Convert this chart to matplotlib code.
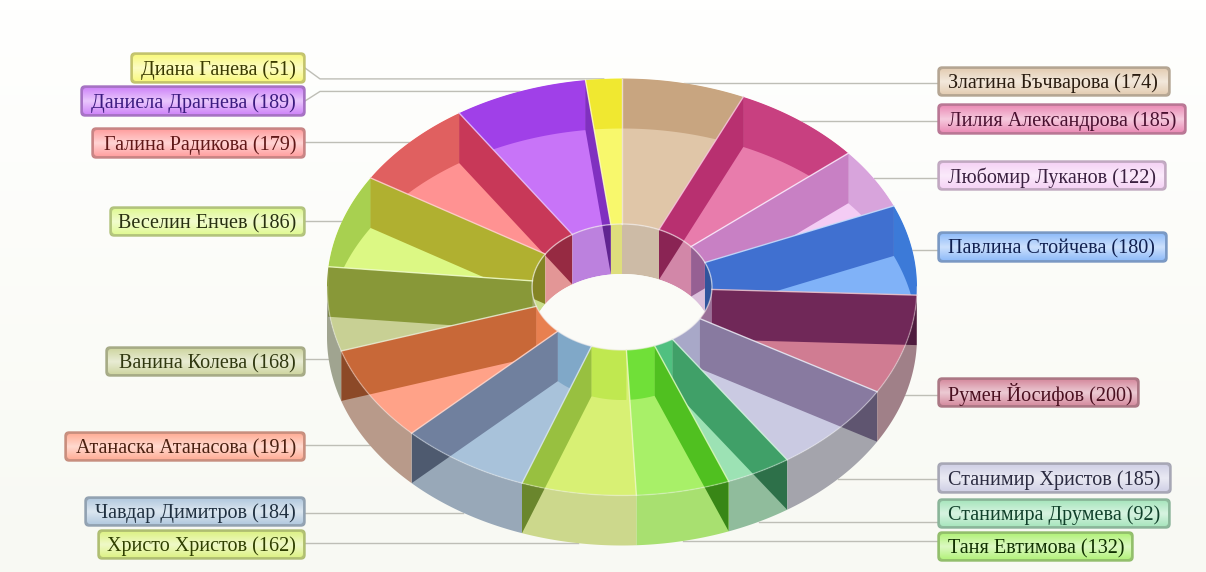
import numpy as np
import matplotlib
matplotlib.use("Agg")
import matplotlib.pyplot as plt
from matplotlib.colors import to_rgb
from matplotlib.patches import Polygon, FancyBboxPatch

# clockwise from the top
names = ["Златина Бъчварова", "Лилия Александрова", "Любомир Луканов", "Павлина Стойчева",
         "Румен Йосифов", "Станимир Христов", "Станимира Друмева", "Таня Евтимова",
         "Христо Христов", "Чавдар Димитров", "Атанаска Атанасова", "Ванина Колева",
         "Веселин Енчев", "Галина Радикова", "Даниела Драгнева", "Диана Ганева"]
values = [174, 185, 122, 180, 200, 185, 92, 132, 162, 184, 191, 168, 186, 179, 189, 51]

light = ["#E0C6A8", "#E87CAC", "#F4CCF4", "#80B2F8", "#D07C92", "#CACAE2", "#9CE2B4", "#A8F068",
         "#D8F074", "#A8C2DA", "#FFA288", "#C8D094", "#DCF884", "#FF9292", "#C874F8", "#F8F86C"]
# far radial wall seen through the top
dark = ["#C8A47E", "#B83070", "#C880C4", "#4070D0", "#702858", "#887AA0", "#40A068", "#50C020",
        "#98C040", "#70809E", "#C86838", "#889838", "#B0B030", "#C83858", "#8030C0", "#E0D020"]
# back part of the outer wall seen through the top
back = ["#C8A580", "#C84080", "#D8A4DC", "#3C7AD8", "#702858", "#887AA0", "#40A068", "#50C020",
        "#98C040", "#70809E", "#C86838", "#8A9A38", "#A8D050", "#E06060", "#A040E8", "#F0E830"]
# front part of the outer wall
wall = ["#C8B090", "#B07090", "#C0A0C0", "#7090C8", "#A08088", "#A4A4AC", "#90BC9C", "#A8E070",
        "#CCD88C", "#98A8B8", "#B89A8A", "#A0A490", "#B0C080", "#D09090", "#A080C0", "#E0E080"]
# front part of the inner wall seen through the top
inner = ["#D0C0A8", "#B88098", "#B090B0", "#6080B0", "#9A7098", "#A8A8C8", "#50C080", "#70E038",
         "#C0E850", "#80A8C8", "#E88050", "#A0A868", "#B0C080", "#D09090", "#B088D0", "#E8E870"]
text_col = ["#2A1C10", "#4A1030", "#3A2040", "#102050", "#4A1020", "#2A2A40", "#10402A", "#103000",
            "#304000", "#203040", "#4A2010", "#303810", "#283010", "#601818", "#3C1C80", "#3A3A00"]
# label box: left, right, top, bottom
boxes = [(938, 1170, 67, 96), (938, 1186, 104, 134), (938, 1166, 161, 190), (938, 1167, 232, 262),
         (938, 1139, 378, 407), (938, 1171, 463, 493), (938, 1170, 499, 528), (938, 1133, 532, 561),
         (98, 305, 530, 559), (85, 305, 497, 526), (65, 305, 432, 461), (106, 305, 347, 376),
         (110, 305, 207, 236), (92, 305, 128, 158), (81, 305, 86, 116), (131, 305, 53, 83)]

CX, CY = 622, 287
RX, RY = 295, 208.5
IX, IY = 90, 63
H = 50
BG = "#FBFBF7"


def mix(a, b, t):
    a, b = np.array(to_rgb(a)), np.array(to_rgb(b))
    return tuple(a * (1 - t) + b * t)


def arc(rx, ry, a0, a1, dy=0):
    t = np.radians(np.linspace(a0, a1, max(int(abs(a1 - a0)) * 2, 2)))
    return np.column_stack([CX + rx * np.sin(t), CY - ry * np.cos(t) + dy])


def band(rx, ry, a0, a1):
    top = arc(rx, ry, a0, a1)
    return np.vstack([top, arc(rx, ry, a1, a0, H)])


def radial(a):
    p = arc(IX, IY, a, a)[0]
    q = arc(RX, RY, a, a)[0]
    return np.array([p, q, q + [0, H], p + [0, H]])


def clipped(a0, a1, lo, hi):
    a, b = max(a0, lo), min(a1, hi)
    return (a, b) if b > a else None


edges = np.cumsum([0] + values) / sum(values) * 360

fig = plt.figure(figsize=(12.06, 5.72), dpi=100)
ax = fig.add_axes([0, 0, 1, 1])
ax.axis("off")

# page background fades from white at the top
page = np.linspace(to_rgb("#FFFFFE"), to_rgb("#F8F9F3"), 60)[:, None, :]
ax.imshow(page, extent=(0, 1206, 572, 0), aspect="auto", zorder=0)

# inner wall seen through the hole
for i in range(len(values)):
    a0, a1 = edges[i], edges[i + 1]
    far = a0 if np.cos(np.radians(a0)) > np.cos(np.radians(a1)) else a1
    for rng in (clipped(a0, a1, 0, 90), clipped(a0, a1, 270, 360)):
        if rng is None:
            continue
        poly = Polygon(band(IX, IY, *rng), fc=mix(light[i], "#A0A0A0", 0.3), ec="none", zorder=1)
        ax.add_patch(poly)
        r = Polygon(radial(far), fc=mix(dark[i], "#000000", 0.25), ec="none", zorder=2)
        ax.add_patch(r)
        r.set_clip_path(poly)

# hole floor only shows where the top ellipse is open
hole = Polygon(arc(IX, IY, 0, 360, H), fc=BG, ec="none", zorder=3)
ax.add_patch(hole)
hole.set_clip_path(Polygon(arc(IX, IY, 0, 360), transform=ax.transData))

# front outer wall
for i in range(len(values)):
    a0, a1 = edges[i], edges[i + 1]
    far = a0 if np.cos(np.radians(a0)) > np.cos(np.radians(a1)) else a1
    rng = clipped(a0, a1, 90, 270)
    if rng is None:
        continue
    poly = Polygon(band(RX, RY, *rng), fc=wall[i], ec="none", zorder=4)
    ax.add_patch(poly)
    r = Polygon(radial(far), fc=mix(dark[i], "#000000", 0.3), ec="none", zorder=5)
    ax.add_patch(r)
    r.set_clip_path(poly)

# top surface, with the walls showing through it
for i in range(len(values)):
    a0, a1 = edges[i], edges[i + 1]
    far = a0 if np.cos(np.radians(a0)) > np.cos(np.radians(a1)) else a1
    pts = np.vstack([arc(RX, RY, a0, a1), arc(IX, IY, a1, a0)])
    top = Polygon(pts, fc=light[i], ec="none", zorder=6)
    ax.add_patch(top)
    rng = clipped(a0, a1, 90, 270)
    if rng is not None:
        p = Polygon(band(IX, IY, *rng), fc=inner[i], ec="none", zorder=7)
        ax.add_patch(p)
        p.set_clip_path(top)
    backs = []
    for rng in (clipped(a0, a1, 0, 90), clipped(a0, a1, 270, 360)):
        if rng is not None:
            p = Polygon(band(RX, RY, *rng), fc=back[i], ec="none", zorder=7.1)
            ax.add_patch(p)
            p.set_clip_path(top)
            backs.append(band(RX, RY, *rng))
    p = Polygon(radial(far), fc=dark[i], ec="none", zorder=7.2)
    ax.add_patch(p)
    p.set_clip_path(top)
    # the radial wall reads darker where it crosses the back wall
    for b_pts in backs:
        p = Polygon(radial(far), fc=mix(dark[i], "#000000", 0.12), ec="none", zorder=7.3)
        ax.add_patch(p)
        p.set_clip_path(Polygon(b_pts, transform=ax.transData))

# pale seams on the top surface
for i, a in enumerate(edges[:-1]):
    p, q = arc(IX, IY, a, a)[0], arc(RX, RY, a, a)[0]
    ax.plot([p[0], q[0]], [p[1], q[1]], color=mix(light[i], "#FFFFFF", 0.55), alpha=0.85, lw=1, zorder=8)
rim = arc(IX, IY, 0, 360)
ax.plot(rim[:, 0], rim[:, 1], color="#F4F0F0", alpha=0.6, lw=1, zorder=8)
rim = arc(RX, RY, 90, 270)
ax.plot(rim[:, 0], rim[:, 1], color="#F4F4F4", alpha=0.35, lw=1, zorder=8)

# labels and leader lines
grad = np.linspace(0, 1, 30)
for i in range(len(values)):
    l, r, t, b = boxes[i]
    mid = (edges[i] + edges[i + 1]) / 2
    end = arc(RX, RY, mid, mid)[0]
    front = np.cos(np.radians(mid)) < 0
    ey = end[1] + (H if front else 0)
    by = (t + b) / 2
    left = l < 600
    sx = r if left else l
    if abs(by - ey) > 9:
        elbow = sx + (15 if left else -15)
        ax.plot([sx, elbow, end[0]], [by, ey, ey], color="#BEBEB6", lw=1, zorder=3.5)
    else:
        ax.plot([sx, end[0]], [ey, ey], color="#BEBEB6", lw=1, zorder=3.5)

    frame = FancyBboxPatch((l + 3, t + 3), r - l - 6, b - t - 6, boxstyle="round,pad=3,rounding_size=4",
                           fc=mix(light[i], "#707070", 0.35), ec=mix(light[i], "#707070", 0.4),
                           lw=1, zorder=9)
    ax.add_patch(frame)
    # glassy shading inside the frame
    rgb = np.array(mix(light[i], "#FFFFFF", 0.15))
    pale = np.array(mix(light[i], "#FFFFFF", 0.6))
    shade = np.abs(grad - 0.5) * 2
    img = np.array([rgb * s + pale * (1 - s) for s in shade])[:, None, :]
    im = ax.imshow(img, extent=(l + 2, r - 2, b - 2, t + 2), aspect="auto", zorder=10)
    clip = FancyBboxPatch((l + 4, t + 4), r - l - 8, b - t - 8, boxstyle="round,pad=2,rounding_size=3",
                          transform=ax.transData)
    im.set_clip_path(clip)
    ax.text(r - 9 if left else l + 10, by + 2, f"{names[i]} ({values[i]})",
            family="Liberation Serif", fontsize=14.5, color=text_col[i],
            ha="right" if left else "left", va="center", zorder=11)

ax.set_xlim(0, 1206)
ax.set_ylim(572, 0)
fig.savefig("out.png", dpi=100)
